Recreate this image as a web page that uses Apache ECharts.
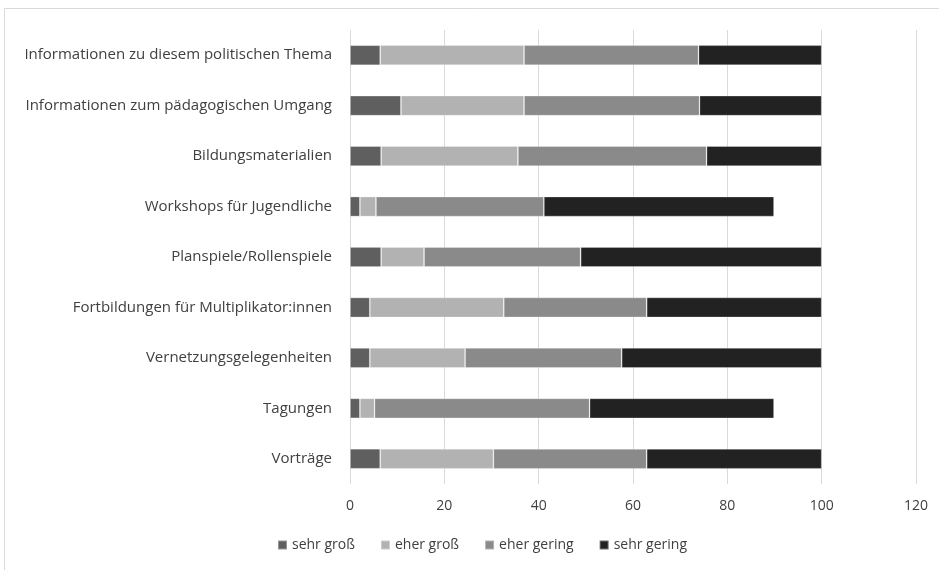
<!DOCTYPE html>
<html>
<head>
<meta charset="utf-8">
<script src="https://cdn.jsdelivr.net/npm/echarts@6/dist/echarts.min.js"></script>
<style>
html,body{margin:0;padding:0;background:#fff}
#chart{width:939px;height:570px}
</style>
</head>
<body>
<div id="chart"></div>
<script>
var kategorien=[
	"Informationen zu diesem politischen Thema",
	"Informationen zum pädagogischen Umgang",
	"Bildungsmaterialien",
	"Workshops für Jugendliche",
	"Planspiele/Rollenspiele",
	"Fortbildungen für Multiplikator:innen",
	"Vernetzungsgelegenheiten",
	"Tagungen",
	"Vorträge"
]
var sehrGross=[6.4,10.8,6.6,2.1,6.6,4.2,4.2,2.1,6.4]
var eherGross=[30.5,26.1,29.0,3.4,9.1,28.4,20.2,3.1,24.0]
var eherGering=[37.0,37.2,40.0,35.6,33.2,30.3,33.2,45.6,32.5]
var sehrGering=[26.1,25.9,24.4,48.8,51.1,37.1,42.4,39.1,37.1]
var tickWerte=[0,20,40,60,80,100,120]

var namen=["sehr groß","eher groß","eher gering","sehr gering"]
var farben=["#5f5f5f","#b2b2b2","#8a8a8a","#222222"]
var werte=[sehrGross,eherGross,eherGering,sehrGering]
var schrift='"Open Sans", sans-serif'

var mychart=echarts.init(document.getElementById('chart'));
var series=[]
for(var i=0;i<4;i++){
	series.push({
		name:namen[i],
		type:'bar',
		stack:'gesamt',
		barWidth:20,
		itemStyle:{color:farben[i],borderColor:'rgba(255,255,255,0.35)',borderWidth:0.8},
		data:werte[i]
	})
}
var option={
	animation:false,
	textStyle:{fontFamily:schrift},
	graphic:[{
		type:'rect',
		shape:{x:4.5,y:8.5,width:940,height:570},
		style:{fill:'none',stroke:'#d9d9d9',lineWidth:1}
	}],
	grid:{left:350,right:23,top:30,bottom:86},
	legend:{
		bottom:13,
		left:272,
		itemWidth:9,
		itemHeight:9,
		itemGap:25,
		icon:'rect',
		textStyle:{color:'#404040',fontSize:14,fontFamily:schrift},
		data:namen
	},
	xAxis:{
		type:'value',
		min:tickWerte[0],
		max:tickWerte[tickWerte.length-1],
		interval:20,
		axisLine:{show:false},
		axisTick:{show:false},
		axisLabel:{color:'#404040',fontSize:14,margin:15,fontFamily:schrift},
		splitLine:{lineStyle:{color:'#d9d9d9',width:1}}
	},
	yAxis:{
		type:'category',
		inverse:true,
		data:kategorien,
		axisLine:{show:false},
		axisTick:{show:false},
		axisLabel:{color:'#404040',fontSize:15,margin:18,fontFamily:schrift}
	},
	series:series
};
mychart.setOption(option);
</script>
</body>
</html>
